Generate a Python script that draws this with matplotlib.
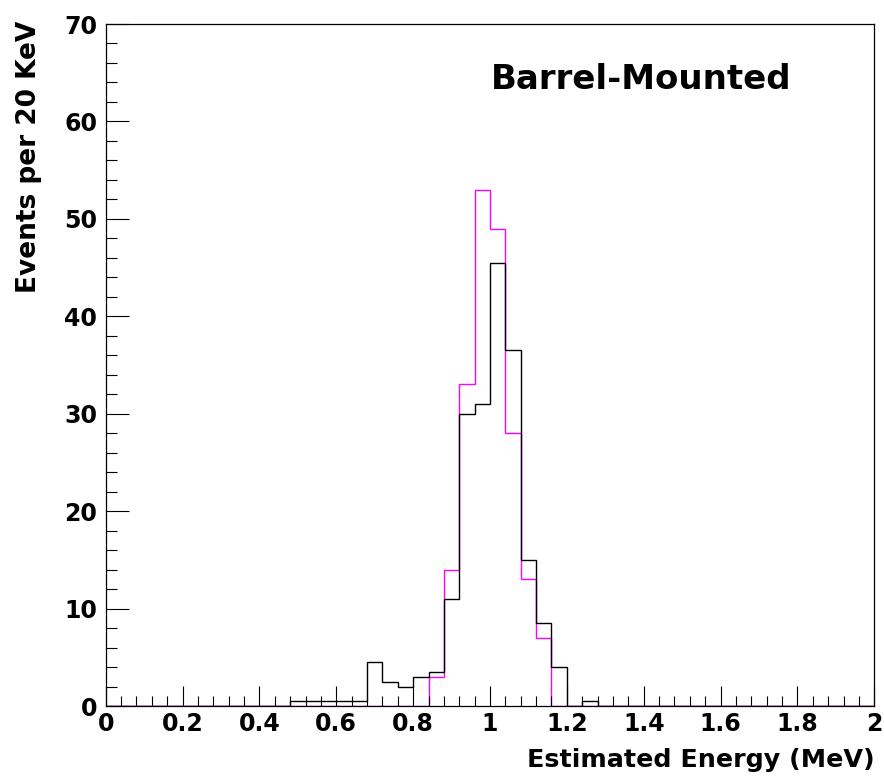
import numpy as np
import matplotlib
matplotlib.use("Agg")
import matplotlib.pyplot as plt
from matplotlib.ticker import MultipleLocator, FixedLocator, FixedFormatter

# ---- data: 50 bins of 0.04 MeV from 0 to 2 ----
bin_lo, bin_hi, bin_w = 0.0, 2.0, 0.04
black_counts = [0, 0, 0, 0, 0, 0, 0, 0, 0, 0,
                0, 0, 0.5, 0.5, 0.5, 0.5, 0.5, 4.5, 2.5, 2,
                3, 3.5, 11, 30, 31, 45.5, 36.5, 15, 8.5, 4,
                0, 0.5, 0, 0, 0, 0, 0, 0, 0, 0,
                0, 0, 0, 0, 0, 0, 0, 0, 0, 0]
magenta_counts = [0, 0, 0, 0, 0, 0, 0, 0, 0, 0,
                  0, 0, 0, 0, 0, 0, 0, 0, 0, 0,
                  0, 3, 14, 33, 53, 49, 28, 13, 7, 0,
                  0, 0, 0, 0, 0, 0, 0, 0, 0, 0,
                  0, 0, 0, 0, 0, 0, 0, 0, 0, 0]
x_ticks = [0, 0.2, 0.4, 0.6, 0.8, 1.0, 1.2, 1.4, 1.6, 1.8, 2.0]
x_tick_labels = ["0", "0.2", "0.4", "0.6", "0.8", "1", "1.2", "1.4", "1.6", "1.8", "2"]
y_ticks = [0, 10, 20, 30, 40, 50, 60, 70]
y_tick_labels = ["0", "10", "20", "30", "40", "50", "60", "70"]
x_title = "Estimated Energy (MeV)"
y_title = "Events per 20 KeV"
label_text = "Barrel-Mounted"

edges = np.arange(bin_lo, bin_hi + bin_w / 2, bin_w)

W, H = 884, 779
fig = plt.figure(figsize=(W / 100, H / 100), dpi=100)
ax = fig.add_axes([105.7 / W, 1 - 706 / H, (874.3 - 105.7) / W, (706 - 24) / H])

ax.stairs(magenta_counts, edges, baseline=0, color="#ff00ff", lw=1.0)
ax.stairs(black_counts, edges, baseline=0, color="black", lw=1.0)

ax.set_xlim(0, 2)
ax.set_ylim(0, 70)

for s in ax.spines.values():
    s.set_linewidth(0.9)
    s.set_color("black")

ax.xaxis.set_major_locator(FixedLocator(x_ticks))
ax.xaxis.set_major_formatter(FixedFormatter(x_tick_labels))
ax.xaxis.set_minor_locator(MultipleLocator(0.04))
ax.yaxis.set_major_locator(FixedLocator(y_ticks))
ax.yaxis.set_major_formatter(FixedFormatter(y_tick_labels))
ax.yaxis.set_minor_locator(MultipleLocator(2))

ax.tick_params(axis="both", which="both", direction="in", top=False, right=False, color="black")
ax.tick_params(axis="x", which="major", length=14.4, width=0.8, pad=4.5)
ax.tick_params(axis="x", which="minor", length=7.2, width=0.8)
ax.tick_params(axis="y", which="major", length=16.5, width=0.8, pad=6)
ax.tick_params(axis="y", which="minor", length=8.2, width=0.8)

font_family = ["DejaVu Sans"]
for lab in ax.get_xticklabels() + ax.get_yticklabels():
    lab.set_fontfamily(font_family)
    lab.set_fontweight("bold")
    lab.set_fontsize(17)

fig.text(874.3 / W, 1 - 767 / H, x_title, ha="right", va="baseline",
         family=font_family, weight="bold", fontsize=18.3)
fig.text(29.5 / W, 1 - 21 / H, y_title, ha="center", va="top", rotation=90,
         family=font_family, weight="bold", fontsize=19)
fig.text(491 / W, 1 - 89 / H, label_text, ha="left", va="baseline",
         family=font_family, weight="bold", fontsize=24.5)

fig.savefig("out.png", dpi=100)
